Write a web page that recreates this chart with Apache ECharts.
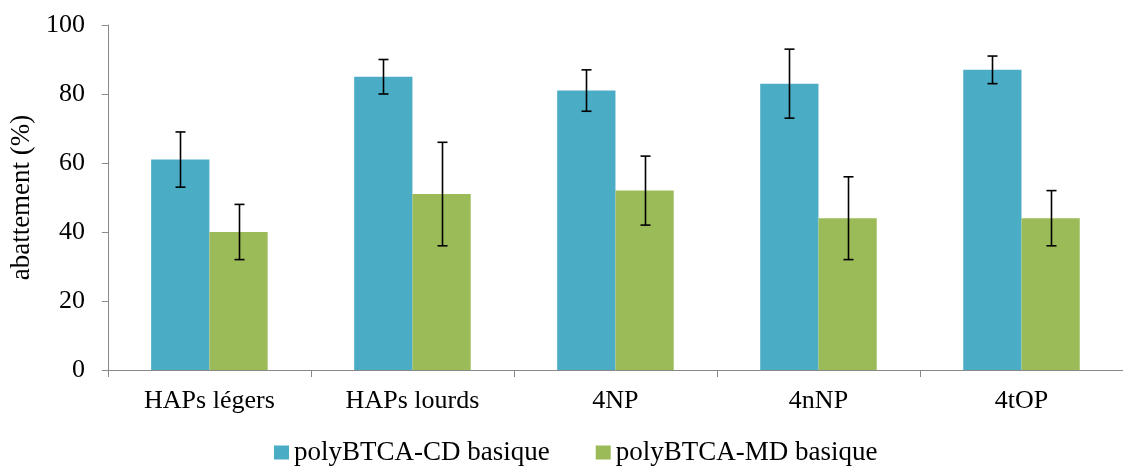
<!DOCTYPE html>
<html>
<head>
<meta charset="utf-8">
<script src="https://cdn.jsdelivr.net/npm/echarts@6/dist/echarts.min.js"></script>
<style>html,body{margin:0;padding:0;background:#fff}#c{width:1123px;height:466px}</style>
</head>
<body>
<div id="c"></div>
<script>
var categories = ['HAPs légers', 'HAPs lourds', '4NP', '4nNP', '4tOP'];
var seriesNames = ['polyBTCA-CD basique', 'polyBTCA-MD basique'];
var cdValues = [61, 85, 81, 83, 87];
var cdErrLow = [53, 80, 75, 73, 83];
var cdErrHigh = [69, 90, 87, 93, 91];
var mdValues = [40, 51, 52, 44, 44];
var mdErrLow = [32, 36, 42, 32, 36];
var mdErrHigh = [48, 66, 62, 56, 52];
var yTicks = [0, 20, 40, 60, 80, 100];

var FONT = 'Liberation Serif';
var BAR_RATIO = 0.287;

function errData(low, high) {
  return categories.map(function (c, i) { return [i, low[i], high[i]]; });
}
function errSeries(low, high, side) {
  return {
    type: 'custom',
    z: 10,
    silent: true,
    data: errData(low, high),
    renderItem: function (params, api) {
      var i = api.value(0);
      var band = api.size([1, 0])[0];
      var off = side * band * BAR_RATIO / 2;
      var pLow = api.coord([i, api.value(1)]);
      var pHigh = api.coord([i, api.value(2)]);
      var x = Math.round(pLow[0] + off) + 0.5;
      var cap = 5;
      var st = { stroke: '#000', lineWidth: 1.6 };
      return {
        type: 'group',
        children: [
          { type: 'line', shape: { x1: x, y1: pHigh[1], x2: x, y2: pLow[1] }, style: st },
          { type: 'line', shape: { x1: x - cap, y1: pHigh[1], x2: x + cap, y2: pHigh[1] }, style: st },
          { type: 'line', shape: { x1: x - cap, y1: pLow[1], x2: x + cap, y2: pLow[1] }, style: st }
        ]
      };
    }
  };
}

var chart = echarts.init(document.getElementById('c'), null, { renderer: 'canvas' });
chart.setOption({
  animation: false,
  backgroundColor: '#fff',
  grid: { left: 105, right: -10, top: 25, bottom: 96 },
  legend: {
    left: 269, top: 434,
    itemWidth: 15, itemHeight: 14, itemGap: 46,
    icon: 'rect',
    textStyle: { fontFamily: FONT, fontSize: 27, color: '#000' },
    data: seriesNames
  },
  xAxis: {
    type: 'category',
    data: categories,
    axisLine: { lineStyle: { color: '#888', width: 1 } },
    axisTick: { show: true, length: 7, lineStyle: { color: '#888' } },
    axisLabel: { fontFamily: FONT, fontSize: 26, color: '#000', margin: 18 }
  },
  yAxis: {
    type: 'value',
    min: yTicks[0], max: yTicks[yTicks.length - 1], interval: 20,
    name: 'abattement (%)',
    nameLocation: 'middle',
    nameRotate: 90,
    nameGap: 62,
    nameTextStyle: { fontFamily: FONT, fontSize: 27, color: '#000' },
    splitLine: { show: false },
    axisLine: { show: true, lineStyle: { color: '#888', width: 1 } },
    axisTick: { show: true, length: 6, lineStyle: { color: '#888' } },
    axisLabel: { fontFamily: FONT, fontSize: 26, color: '#000', margin: 23 }
  },
  series: [
    { name: seriesNames[0], type: 'bar', data: cdValues, barWidth: (BAR_RATIO * 100) + '%', barGap: '0%', itemStyle: { color: '#4BACC6' } },
    { name: seriesNames[1], type: 'bar', data: mdValues, barWidth: (BAR_RATIO * 100) + '%', barGap: '0%', itemStyle: { color: '#9BBB59' } },
    errSeries(cdErrLow, cdErrHigh, -1),
    errSeries(mdErrLow, mdErrHigh, 1)
  ]
});
</script>
</body>
</html>
